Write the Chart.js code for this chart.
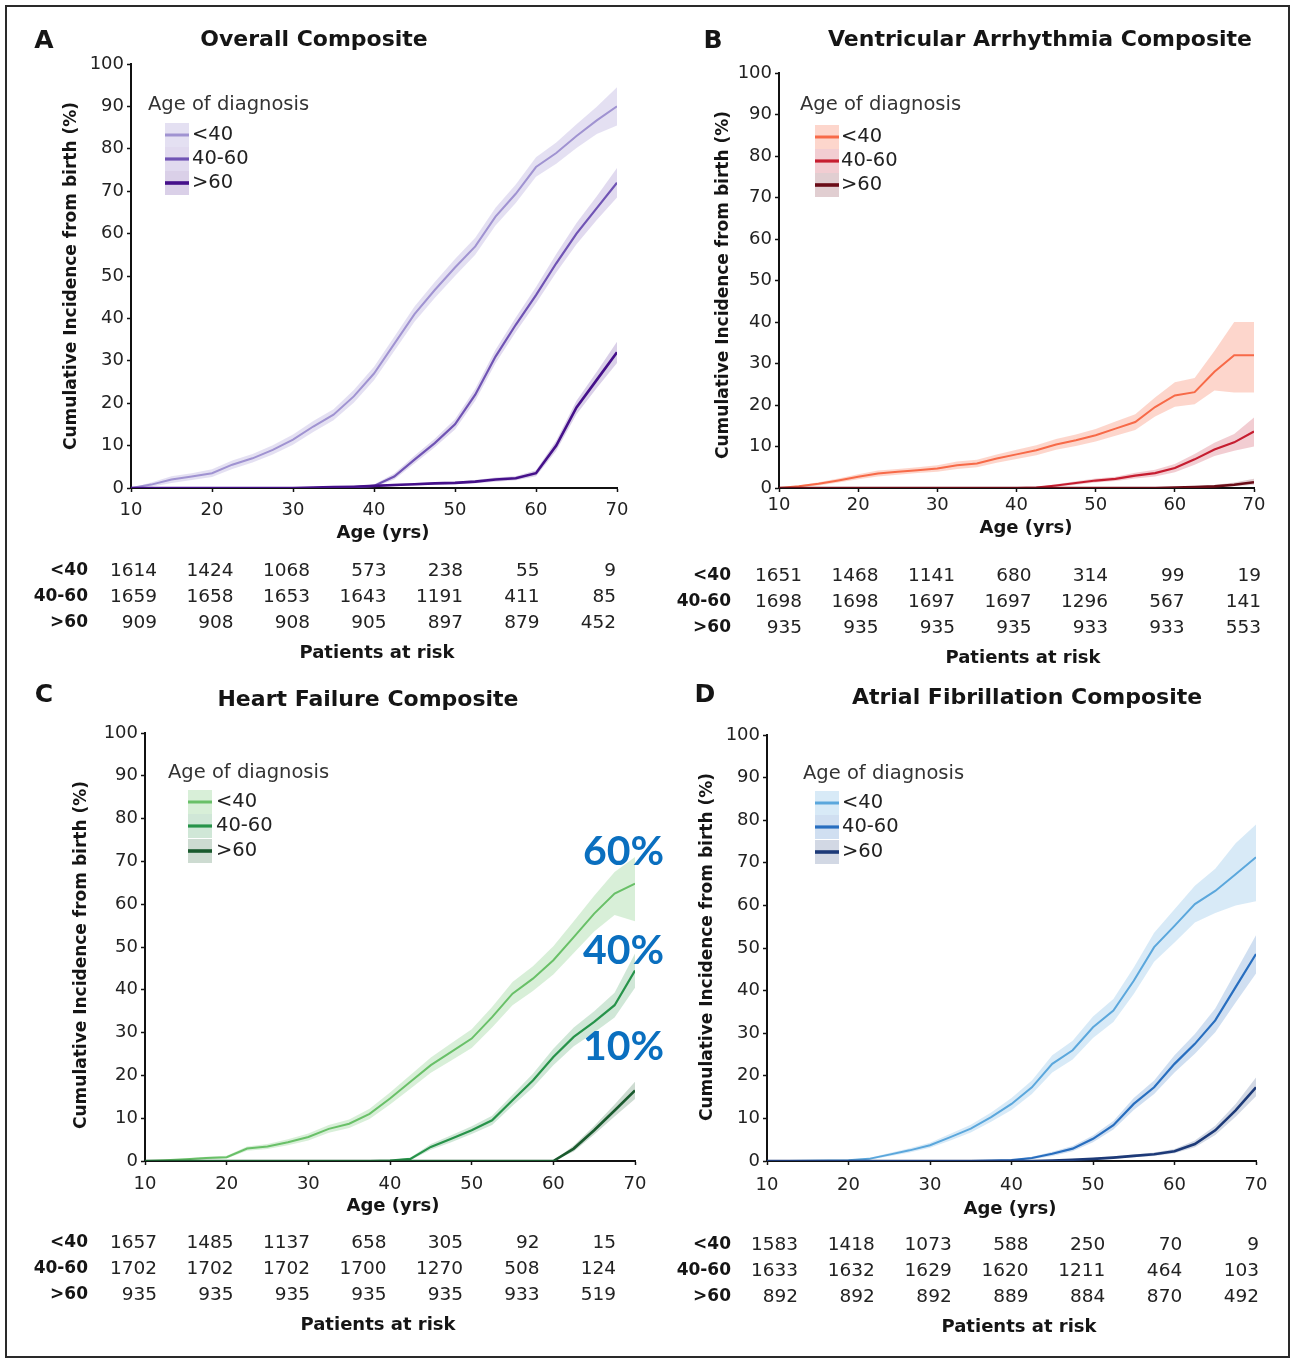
<!DOCTYPE html>
<html>
<head>
<meta charset="utf-8">
<script src="https://cdn.jsdelivr.net/npm/chart.js@4.4.1/dist/chart.umd.min.js"></script>
<style>
  body { margin: 0; background: #fff; }
  #wrap { position: relative; width: 1293px; height: 1361px; }
  #frame { position: absolute; left: 5px; top: 5px; width: 1281px; height: 1349px; border: 2px solid #2a2a2a; }
  canvas { position: absolute; left: 0; top: 0; }
</style>
</head>
<body>
<div id="wrap">
  <div id="frame"></div>
  <canvas id="cA" width="1293" height="1361"></canvas>
  <canvas id="cB" width="1293" height="1361"></canvas>
  <canvas id="cC" width="1293" height="1361"></canvas>
  <canvas id="cD" width="1293" height="1361"></canvas>
</div>
<script>
// edades (eje x)
const AGES = [10,12.5,15,17.5,20,22.5,25,27.5,30,32.5,35,37.5,40,42.5,45,47.5,50,52.5,55,57.5,60,62.5,65,67.5,70];
const GROUPS = ['<40', '40-60', '>60'];

// A - Overall Composite
const A_LT40    = [0,0.8,2,2.7,3.5,5.5,7,9,11.4,14.5,17.3,21.6,27,34,41,46.7,52,57,64,69.4,75.7,79,83,86.7,90];
const A_LT40_LO = [0,0.3,1.2,1.9,2.6,4.5,6,7.9,10.2,13.2,16,20.1,25.4,32.3,39.2,44.8,50,55,61.9,67.2,73.4,76.5,80.2,83.5,85.5];
const A_LT40_HI = [0,1.3,2.8,3.5,4.4,6.5,8,10.1,12.6,15.8,18.6,23.1,28.6,35.7,42.8,48.6,54,59,66.1,71.6,78,81.5,85.8,89.9,94.5];
const A_MID     = [0,0,0,0,0,0,0,0,0,0,0.1,0.2,0.5,2.7,6.7,10.6,15,22,31,38.5,45.5,53,60,66,72];
const A_MID_LO  = [0,0,0,0,0,0,0,0,0,0,0,0,0.2,2,5.8,9.6,13.8,20.6,29.4,36.8,43.6,50.8,57.5,63.2,68.5];
const A_MID_HI  = [0,0,0,0,0,0,0,0,0,0,0.2,0.4,0.8,3.4,7.6,11.6,16.2,23.4,32.6,40.2,47.4,55.2,62.5,68.8,75.5];
const A_GT60    = [0,0,0,0,0,0,0,0,0,0.1,0.2,0.3,0.5,0.7,0.9,1.1,1.2,1.5,2,2.3,3.5,10,19,25.5,32];
const A_GT60_LO = [0,0,0,0,0,0,0,0,0,0,0.1,0.2,0.3,0.4,0.6,0.8,0.9,1.1,1.5,1.8,2.8,8.8,17.4,23.6,29.5];
const A_GT60_HI = [0,0,0,0,0,0,0,0,0,0.2,0.3,0.4,0.7,1,1.2,1.4,1.5,1.9,2.5,2.8,4.2,11.2,20.6,27.4,34.5];

// B - Ventricular Arrhythmia Composite
const B_LT40    = [0,0.4,1,1.8,2.7,3.5,3.9,4.3,4.7,5.5,5.9,7.1,8.1,9.1,10.5,11.5,12.7,14.3,15.9,19.5,22.3,23.1,28,32,32];
const B_LT40_LO = [0,0.2,0.6,1.3,2.1,2.8,3.2,3.6,3.9,4.6,5,6.1,7,7.9,9.2,10.1,11.2,12.6,14,17.2,19.6,20.2,23.5,23,23];
const B_LT40_HI = [0,0.6,1.4,2.3,3.3,4.2,4.6,5,5.5,6.4,6.8,8.1,9.2,10.3,11.8,12.9,14.2,16,17.8,21.8,25.5,26.5,33,40,40];
const B_MID     = [0,0,0,0,0,0,0,0,0,0,0,0,0,0.1,0.6,1.2,1.8,2.2,3,3.6,4.8,6.9,9.3,11,13.6];
const B_MID_LO  = [0,0,0,0,0,0,0,0,0,0,0,0,0,0,0.3,0.8,1.3,1.7,2.3,2.8,3.8,5.6,7.7,9,10];
const B_MID_HI  = [0,0,0,0,0,0,0,0,0,0,0,0,0,0.2,0.9,1.6,2.3,2.7,3.7,4.4,5.8,8.2,10.9,13,17];
const B_GT60    = [0,0,0,0,0,0,0,0,0,0,0,0,0,0,0,0,0,0,0,0,0.1,0.2,0.4,0.8,1.4];
const B_GT60_LO = [0,0,0,0,0,0,0,0,0,0,0,0,0,0,0,0,0,0,0,0,0,0.1,0.2,0.4,0.8];
const B_GT60_HI = [0,0,0,0,0,0,0,0,0,0,0,0,0,0,0,0,0,0,0,0,0.2,0.4,0.7,1.3,2.2];

// C - Heart Failure Composite
const C_LT40    = [0,0.2,0.4,0.7,0.9,2.9,3.4,4.4,5.6,7.5,8.7,11,14.6,18.5,22.4,25.5,28.6,33.6,39.1,42.6,46.9,52.3,57.8,62.5,64.8];
const C_LT40_LO = [0,0.1,0.2,0.4,0.6,2.4,2.8,3.7,4.8,6.6,7.7,9.8,13.2,16.9,20.6,23.5,26.4,31.2,36.4,39.7,43.6,48.6,53.6,57.5,56];
const C_LT40_HI = [0,0.3,0.6,1,1.2,3.4,4,5.1,6.4,8.4,9.7,12.2,16,20.1,24.2,27.5,30.8,36,41.8,45.5,50.2,56,62,67.5,71];
const C_MID     = [0,0,0,0,0,0,0,0,0,0,0,0,0.1,0.5,3.3,5.2,7.2,9.5,14.2,18.8,24.3,29,32.5,36.4,44.5];
const C_MID_LO  = [0,0,0,0,0,0,0,0,0,0,0,0,0,0.2,2.6,4.4,6.3,8.4,12.9,17.2,22.4,26.8,30,33.5,40.5];
const C_MID_HI  = [0,0,0,0,0,0,0,0,0,0,0,0,0.2,0.8,4,6,8.1,10.6,15.5,20.4,26.2,31.2,35,39.3,48.5];
const C_GT60    = [0,0,0,0,0,0,0,0,0,0,0,0,0,0,0,0,0,0,0,0,0,2.9,7.2,11.8,16.5];
const C_GT60_LO = [0,0,0,0,0,0,0,0,0,0,0,0,0,0,0,0,0,0,0,0,0,2.2,6.2,10.4,14.5];
const C_GT60_HI = [0,0,0,0,0,0,0,0,0,0,0,0,0,0,0,0,0,0,0,0,0,3.6,8.2,13.2,18.5];

// D - Atrial Fibrillation Composite
const D_LT40    = [0,0,0.05,0.1,0.2,0.5,1.5,2.5,3.7,5.6,7.6,10.3,13.4,17.3,22.8,26,31.4,35.3,42.3,50.2,55.2,60.3,63.4,67.3,71.3];
const D_LT40_LO = [0,0,0,0.05,0.1,0.3,1.1,2,3.1,4.8,6.7,9.2,12,15.7,20.8,23.8,28.9,32.6,39.2,46.8,51.3,56,58.2,60,61];
const D_LT40_HI = [0,0,0.1,0.15,0.3,0.7,1.9,3,4.3,6.4,8.5,11.4,14.8,18.9,24.8,28.2,33.9,38,45.4,53.6,59.1,64.6,68.6,74.6,79];
const D_MID     = [0,0,0,0,0,0,0,0,0,0,0,0.1,0.2,0.7,1.7,2.9,5.2,8.4,13.4,17.3,22.8,27.5,33,40.8,48.6];
const D_MID_LO  = [0,0,0,0,0,0,0,0,0,0,0,0,0.1,0.4,1.2,2.3,4.4,7.4,12,15.7,20.8,25.2,30.2,37.2,44];
const D_MID_HI  = [0,0,0,0,0,0,0,0,0,0,0,0.2,0.3,1,2.2,3.5,6,9.4,14.8,18.9,24.8,29.8,35.8,44.4,53];
const D_GT60    = [0,0,0,0,0,0,0,0,0,0,0,0,0,0,0.1,0.3,0.5,0.8,1.2,1.6,2.3,4,7.2,11.9,17.3];
const D_GT60_LO = [0,0,0,0,0,0,0,0,0,0,0,0,0,0,0,0.1,0.3,0.5,0.9,1.2,1.8,3.2,6.1,10.4,15.2];
const D_GT60_HI = [0,0,0,0,0,0,0,0,0,0,0,0,0,0,0.2,0.5,0.7,1.1,1.5,2,2.8,4.8,8.3,13.4,19.6];

// Patients at risk (columnas: 10,20,...,70)
const RISK_A = [[1614,1424,1068,573,238,55,9],[1659,1658,1653,1643,1191,411,85],[909,908,908,905,897,879,452]];
const RISK_B = [[1651,1468,1141,680,314,99,19],[1698,1698,1697,1697,1296,567,141],[935,935,935,935,933,933,553]];
const RISK_C = [[1657,1485,1137,658,305,92,15],[1702,1702,1702,1700,1270,508,124],[935,935,935,935,935,933,519]];
const RISK_D = [[1583,1418,1073,588,250,70,9],[1633,1632,1629,1620,1211,464,103],[892,892,892,889,884,870,492]];

const Y_TITLE = 'Cumulative Incidence from birth (%)';
const FONT = '"DejaVu Sans", Verdana, sans-serif';

Chart.defaults.font.family = FONT;
Chart.defaults.color = '#222';

const panels = [
  {
    id: 'cA', letter: 'A', title: 'Overall Composite',
    series: [[A_LT40, A_LT40_LO, A_LT40_HI], [A_MID, A_MID_LO, A_MID_HI], [A_GT60, A_GT60_LO, A_GT60_HI]],
    colors: ['#a093d1', '#7054b4', '#45108a'],
    bands: ['rgba(164,151,211,0.3)', 'rgba(117,88,182,0.22)', 'rgba(71,18,140,0.2)'],
    risk: RISK_A,
    area: { l: 131, r: 617, t: 64, b: 488 }, xPad: 8,
    letterPos: [44, 41], titlePos: [314, 40], yTitlePos: [72, 276], xTitlePos: [383, 533],
    legend: { title: [148, 105], sx: 165, tx: 192, ys: [135, 159, 183] },
    table: { labelRight: 88, rows: [571, 597, 623], first: 157, last: 616, footer: [377, 653] }
  },
  {
    id: 'cB', letter: 'B', title: 'Ventricular Arrhythmia Composite',
    series: [[B_LT40, B_LT40_LO, B_LT40_HI], [B_MID, B_MID_LO, B_MID_HI], [B_GT60, B_GT60_LO, B_GT60_HI]],
    colors: ['#f76a48', '#c61d30', '#6a0c17'],
    bands: ['rgba(247,106,72,0.28)', 'rgba(198,29,48,0.22)', 'rgba(106,12,23,0.2)'],
    risk: RISK_B,
    area: { l: 779, r: 1254, t: 73, b: 488 }, xPad: 3,
    letterPos: [713, 41], titlePos: [1040, 40], yTitlePos: [724, 285], xTitlePos: [1026, 528],
    legend: { title: [800, 105], sx: 815, tx: 841, ys: [137, 161, 185] },
    table: { labelRight: 731, rows: [576, 602, 628], first: 802, last: 1261, footer: [1023, 658] }
  },
  {
    id: 'cC', letter: 'C', title: 'Heart Failure Composite',
    series: [[C_LT40, C_LT40_LO, C_LT40_HI], [C_MID, C_MID_LO, C_MID_HI], [C_GT60, C_GT60_LO, C_GT60_HI]],
    colors: ['#69c068', '#27934a', '#1a5a2e'],
    bands: ['rgba(105,192,104,0.26)', 'rgba(39,147,74,0.22)', 'rgba(26,90,46,0.22)'],
    risk: RISK_C,
    area: { l: 145, r: 635, t: 733, b: 1161 }, xPad: 9,
    letterPos: [44, 695], titlePos: [368, 700], yTitlePos: [82, 955], xTitlePos: [393, 1206],
    legend: { title: [168, 773], sx: 188, tx: 216, ys: [802, 826, 851] },
    table: { labelRight: 88, rows: [1243, 1269, 1295], first: 157, last: 616, footer: [378, 1325] },
    notes: [['60%', 583, 852], ['40%', 583, 951], ['10%', 583, 1047]]
  },
  {
    id: 'cD', letter: 'D', title: 'Atrial Fibrillation Composite',
    series: [[D_LT40, D_LT40_LO, D_LT40_HI], [D_MID, D_MID_LO, D_MID_HI], [D_GT60, D_GT60_LO, D_GT60_HI]],
    colors: ['#5ba7dc', '#286ebf', '#1d3a78'],
    bands: ['rgba(91,167,220,0.24)', 'rgba(40,110,191,0.22)', 'rgba(29,58,120,0.2)'],
    risk: RISK_D,
    area: { l: 767, r: 1256, t: 735, b: 1161 }, xPad: 10,
    letterPos: [705, 695], titlePos: [1027, 698], yTitlePos: [708, 947], xTitlePos: [1010, 1209],
    legend: { title: [803, 774], sx: 815, tx: 842, ys: [803, 827, 852] },
    table: { labelRight: 731, rows: [1245, 1271, 1297], first: 798, last: 1259, footer: [1019, 1327] }
  }
];

const Y_AXIS_W = 50;
const X_AXIS_H = 30;
const LINE_W = [2, 2.2, 2.6];

const toPoints = arr => AGES.map((a, i) => ({ x: a, y: arr[i] }));

// dibuja textos, leyenda y tabla de pacientes en riesgo
const makeDecor = p => ({
  id: 'decor' + p.letter,
  afterDraw(chart) {
    const ctx = chart.ctx;
    ctx.save();
    ctx.fillStyle = '#151515';
    ctx.textBaseline = 'middle';
    ctx.textAlign = 'center';

    ctx.font = `bold 25px ${FONT}`;
    ctx.fillText(p.letter, p.letterPos[0], p.letterPos[1]);
    ctx.font = `bold 22px ${FONT}`;
    ctx.fillText(p.title, p.titlePos[0], p.titlePos[1]);

    ctx.font = `bold 18px ${FONT}`;
    ctx.fillText('Age (yrs)', p.xTitlePos[0], p.xTitlePos[1]);

    ctx.save();
    ctx.translate(p.yTitlePos[0], p.yTitlePos[1]);
    ctx.rotate(-Math.PI / 2);
    ctx.font = `bold 17px ${FONT}`;
    ctx.fillText(Y_TITLE, 0, 0);
    ctx.restore();

    // leyenda
    ctx.textAlign = 'left';
    ctx.fillStyle = '#333';
    ctx.font = `19.5px ${FONT}`;
    ctx.fillText('Age of diagnosis', p.legend.title[0], p.legend.title[1]);
    GROUPS.forEach((g, i) => {
      const y = p.legend.ys[i];
      ctx.fillStyle = p.bands[i];
      ctx.fillRect(p.legend.sx, y - 12, 24, 24);
      ctx.strokeStyle = p.colors[i];
      ctx.lineWidth = LINE_W[i] + 1;
      ctx.beginPath();
      ctx.moveTo(p.legend.sx, y);
      ctx.lineTo(p.legend.sx + 24, y);
      ctx.stroke();
      ctx.fillStyle = '#222';
      ctx.fillText(g, p.legend.tx, y);
    });

    // pacientes en riesgo
    const t = p.table;
    const step = (t.last - t.first) / 6;
    GROUPS.forEach((g, i) => {
      const y = t.rows[i];
      ctx.textAlign = 'right';
      ctx.font = `bold 17px ${FONT}`;
      ctx.fillStyle = '#151515';
      ctx.fillText(g, t.labelRight, y);
      ctx.font = `18.5px ${FONT}`;
      ctx.fillStyle = '#222';
      p.risk[i].forEach((n, j) => {
        ctx.fillText(String(n), t.first + j * step, y);
      });
    });
    ctx.textAlign = 'center';
    ctx.font = `bold 18px ${FONT}`;
    ctx.fillStyle = '#151515';
    ctx.fillText('Patients at risk', t.footer[0], t.footer[1]);

    if (p.notes) {
      ctx.textAlign = 'left';
      ctx.fillStyle = '#0a6fbf';
      ctx.font = 'bold 41px Lato, "Open Sans", sans-serif';
      p.notes.forEach(n => ctx.fillText(n[0], n[1], n[2]));
    }
    ctx.restore();
  }
});

panels.forEach(p => {
  const datasets = [];
  p.series.forEach((s, i) => {
    const [mean, lo, hi] = s;
    datasets.push({
      label: GROUPS[i] + ' hi', data: toPoints(hi), borderWidth: 0, pointRadius: 0,
      backgroundColor: p.bands[i], fill: '+1', order: 3
    });
    datasets.push({
      label: GROUPS[i] + ' lo', data: toPoints(lo), borderWidth: 0, pointRadius: 0,
      fill: false, order: 3
    });
    datasets.push({
      label: GROUPS[i], data: toPoints(mean), borderColor: p.colors[i], borderWidth: LINE_W[i],
      pointRadius: 0, fill: false, tension: 0, order: 1 - i * 0.1
    });
  });

  const a = p.area;
  new Chart(document.getElementById(p.id).getContext('2d'), {
    type: 'line',
    data: { datasets },
    options: {
      responsive: false,
      animation: false,
      events: [],
      layout: {
        padding: { left: a.l - Y_AXIS_W, right: 1293 - a.r, top: a.t, bottom: 1361 - a.b - X_AXIS_H }
      },
      plugins: { legend: { display: false }, tooltip: { enabled: false }, title: { display: false } },
      scales: {
        x: {
          type: 'linear', min: 10, max: 70,
          afterFit: s => { s.height = X_AXIS_H; },
          ticks: { stepSize: 10, padding: p.xPad, color: '#222', font: { size: 18 } },
          grid: { drawOnChartArea: false, tickLength: 4, tickColor: '#111', tickWidth: 1.5 },
          border: { color: '#111', width: 2 }
        },
        y: {
          min: 0, max: 100,
          afterFit: s => { s.width = Y_AXIS_W; },
          ticks: { stepSize: 10, padding: 3, color: '#222', font: { size: 18 } },
          grid: { drawOnChartArea: false, tickLength: 4, tickColor: '#111', tickWidth: 1.5 },
          border: { color: '#111', width: 2 }
        }
      }
    },
    plugins: [makeDecor(p)]
  });
});
</script>
</body>
</html>
